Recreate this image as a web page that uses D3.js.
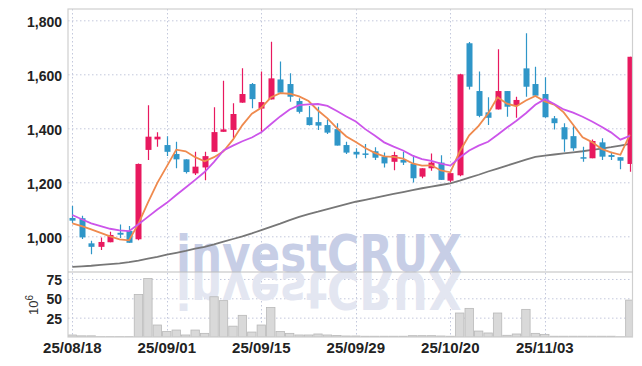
<!DOCTYPE html>
<html><head><meta charset="utf-8">
<script src="https://cdn.jsdelivr.net/npm/d3@7"></script>
<style>body{margin:0;background:#fff;} svg{display:block}</style>
</head><body><svg id="c" width="642" height="366"></svg>
<script>
const dates = ["2025-08-18","2025-08-19","2025-08-20","2025-08-21","2025-08-22","2025-08-25","2025-08-26","2025-08-27","2025-08-28","2025-08-29",
"2025-09-01","2025-09-02","2025-09-03","2025-09-04","2025-09-05","2025-09-08","2025-09-09","2025-09-10","2025-09-11","2025-09-12",
"2025-09-15","2025-09-16","2025-09-17","2025-09-18","2025-09-19","2025-09-22","2025-09-23","2025-09-24","2025-09-25","2025-09-26",
"2025-09-29","2025-09-30","2025-10-01","2025-10-02","2025-10-10","2025-10-13","2025-10-14","2025-10-15","2025-10-16","2025-10-17",
"2025-10-20","2025-10-21","2025-10-22","2025-10-23","2025-10-24","2025-10-27","2025-10-28","2025-10-29","2025-10-30","2025-10-31",
"2025-11-03","2025-11-04","2025-11-05","2025-11-06","2025-11-07","2025-11-10","2025-11-11","2025-11-12","2025-11-13","2025-11-14"];
const open  = [1068,1067,974,961,978,1013,1020,989,1320,1359, 1338,1305,1285,1233,1255,1313,1387,1394,1495,1564, 1473,1507,1581,1564,1501,1441,1423,1412,1397,1338, 1313,1307,1315,1295,1276,1283,1268,1221,1252,1273, 1206,1226,1715,1538,1459,1470,1538,1486,1622,1564, 1527,1437,1404,1371,1293,1289,1348,1301,1293,1268];
const high  = [1112,1076,984,996,1017,1044,1038,1270,1485,1385, 1371,1350,1285,1313,1313,1478,1576,1493,1622,1568, 1610,1721,1647,1604,1511,1483,1480,1433,1419,1350, 1326,1342,1330,1310,1313,1313,1301,1252,1307,1300, 1236,1602,1720,1610,1515,1693,1538,1517,1752,1628, 1589,1446,1419,1408,1332,1359,1363,1313,1293,1665];
const low   = [1049,990,934,949,978,994,976,985,1283,1332, 1297,1252,1233,1227,1208,1313,1387,1363,1495,1474, 1387,1507,1530,1498,1455,1410,1394,1379,1336,1305, 1289,1289,1283,1255,1245,1264,1199,1215,1243,1209, 1200,1222,1544,1441,1412,1470,1443,1439,1517,1518, 1439,1396,1313,1317,1276,1289,1283,1283,1248,1239];
const close = [1058,996,961,979,1005,1006,976,1268,1369,1369, 1313,1285,1238,1258,1297,1386,1396,1453,1527,1508, 1497,1585,1532,1517,1461,1412,1410,1384,1336,1310, 1303,1304,1291,1270,1301,1273,1215,1252,1273,1209, 1234,1600,1554,1446,1439,1538,1480,1505,1554,1521, 1441,1419,1359,1326,1289,1353,1295,1294,1280,1665];
const volume = [2.6,1.5,1.5,0.4,0.4,0.4,0.4,55,75.6,15.5, 7,9,2.6,9,4.7,52,47,14,28,6.4, 15.5,38,7,4.7,2.6,2.6,3.9,2.6,2,1.3, 1.3,1,1,1,1,1,1.7,1.7,1.7,1.3, 1,31,37,7.7,5.2,31,2.2,3.9,35.7,4.7, 3.4,1,1,1,1,1,1,1,0.3,47.7];
const ma5  = [1048,1038,1026,1013,1000,989,985,1047,1125,1198, 1259,1321,1315,1293,1278,1293,1315,1358,1412,1454, 1476,1514,1530,1528,1518,1501,1466,1437,1401,1370, 1349,1327,1309,1296,1294,1288,1270,1262,1263,1244, 1237,1314,1374,1409,1455,1515,1491,1482,1503,1520, 1500,1488,1459,1413,1367,1349,1324,1311,1302,1377];
const ma10 = [1079,1063,1048,1038,1028,1022,1019,1045,1072,1099, 1124,1153,1181,1209,1238,1276,1318,1336,1352,1366, 1385,1415,1444,1470,1486,1489,1490,1483,1464,1444, 1425,1397,1373,1348,1332,1318,1299,1286,1279,1269, 1262,1292,1318,1336,1350,1376,1403,1428,1456,1487, 1508,1490,1470,1458,1443,1425,1406,1385,1358,1372];
const ma60 = [887,889,891,894,897,900,904,910,917,924, 932,939,946,954,961,970,980,990,1000,1011, 1023,1035,1047,1060,1072,1082,1091,1101,1110,1119, 1128,1135,1142,1150,1157,1164,1171,1178,1184,1190, 1196,1206,1217,1228,1240,1251,1262,1273,1284,1294, 1299,1303,1307,1311,1315,1320,1325,1330,1336,1342];
const priceTicks = [1000,1200,1400,1600,1800];
const volTicks = [25,50,75];
const dateTicks = ["2025-08-18","2025-09-01","2025-09-15","2025-09-29","2025-10-20","2025-11-03"];
const watermark = "investCRUX";

const L=68, R=632.5, PT=9, PB=272, VB=337;
const UP="#e8195f", DOWN="#2f96c8";
const svg = d3.select("#c");
const x = d3.scaleBand().domain(dates).range([67.575, 634.575]);
const cx = d => x(d) + x.bandwidth()/2;
const y = d3.scaleLinear().domain([867.8,1841.9]).range([PB,PT]);
const yv = d3.scaleLinear().domain([0,84]).range([VB,PB]);

svg.append("defs").append("clipPath").attr("id","clipP").append("rect")
  .attr("x",L).attr("y",PT).attr("width",R-L).attr("height",PB-PT);
svg.select("defs").append("clipPath").attr("id","clipV").append("rect")
  .attr("x",L).attr("y",PB).attr("width",R-L).attr("height",VB-PB);

const gridC = "#c3c8dc", dash="1.5,2.5";
svg.append("g").selectAll("line").data(priceTicks).join("line")
  .attr("x1",L).attr("x2",R).attr("y1",d=>y(d)+0.5).attr("y2",d=>y(d)+0.5)
  .attr("stroke",gridC).attr("stroke-dasharray",dash);
svg.append("g").selectAll("line").data(volTicks).join("line")
  .attr("x1",L).attr("x2",R).attr("y1",d=>yv(d)+0.5).attr("y2",d=>yv(d)+0.5)
  .attr("stroke",gridC).attr("stroke-dasharray",dash);
svg.append("g").selectAll("line").data(dateTicks).join("line")
  .attr("x1",d=>Math.round(cx(d))+0.5).attr("x2",d=>Math.round(cx(d))+0.5).attr("y1",PT).attr("y2",VB)
  .attr("stroke",gridC).attr("stroke-dasharray",dash);

// watermark with reflection
const wm = svg.append("g");
const wmFont = "'DejaVu Sans', 'Liberation Sans', sans-serif";
wm.append("text").attr("x",176).attr("y",272).text(watermark)
  .attr("font-family",wmFont).attr("font-weight","bold")
  .attr("font-size",52).attr("textLength",286).attr("lengthAdjust","spacingAndGlyphs")
  .attr("fill","#c7cee6");
wm.append("text").attr("x",176).attr("y",272).text(watermark)
  .attr("transform","translate(0,544) scale(1,-1)")
  .attr("font-family",wmFont).attr("font-weight","bold")
  .attr("font-size",52).attr("textLength",286).attr("lengthAdjust","spacingAndGlyphs")
  .attr("fill","#e3e6f1");

// volume
const idx = d3.range(dates.length);
svg.append("g").attr("clip-path","url(#clipV)").selectAll("rect").data(idx).join("rect")
  .attr("x",i=>cx(dates[i])-4.2).attr("width",8.4)
  .attr("y",i=>yv(volume[i])).attr("height",i=>VB-yv(volume[i]))
  .attr("fill","#d9d9d9").attr("stroke","#b8b8b8").attr("stroke-width",0.8);

const line = arr => d3.line().x((v,i)=>cx(dates[i])).y(v=>y(v))(arr);
const pg = svg.append("g").attr("clip-path","url(#clipP)");
pg.append("path").attr("d",line(ma60)).attr("fill","none").attr("stroke","#777").attr("stroke-width",1.8);

const cg = pg.append("g");
idx.forEach(i=>{
  const up = close[i] >= open[i];
  const col = up ? UP : DOWN;
  const xc = Math.round(cx(dates[i]));
  cg.append("line").attr("x1",xc+0.5).attr("x2",xc+0.5).attr("y1",y(high[i])).attr("y2",y(low[i]))
    .attr("stroke",col).attr("stroke-width",1.2);
  const top = y(Math.max(open[i],close[i])), bot = y(Math.min(open[i],close[i]));
  cg.append("rect").attr("x",xc-2.5).attr("width",6).attr("y",top).attr("height",Math.max(1.5,bot-top))
    .attr("fill",col);
});

pg.append("path").attr("d",line(ma5)).attr("fill","none").attr("stroke","#ef8a4e").attr("stroke-width",1.8);
pg.append("path").attr("d",line(ma10)).attr("fill","none").attr("stroke","#cc55ea").attr("stroke-width",1.8);

const fr = svg.append("g").attr("fill","none").attr("stroke","#cfcfcf").attr("stroke-width",1.2);
fr.append("rect").attr("x",L).attr("y",PT).attr("width",R-L).attr("height",VB-PT);
fr.append("line").attr("x1",L).attr("x2",R).attr("y1",PB).attr("y2",PB).attr("stroke","#bdbdbd");

const font = "'Liberation Sans Narrow', 'Arial Narrow', sans-serif";
function styleAxis(g){ g.select(".domain").remove(); g.selectAll(".tick line").remove();
  g.selectAll("text").attr("font-family",font).attr("font-weight","bold").attr("fill","#222"); }
svg.append("g").attr("transform",`translate(${L},2)`)
  .call(d3.axisLeft(y).tickValues(priceTicks).tickFormat(d3.format(",")).tickSize(0).tickPadding(6))
  .call(styleAxis).selectAll("text").attr("font-size",14);
svg.append("g").attr("transform",`translate(${L},1)`)
  .call(d3.axisLeft(yv).tickValues(volTicks).tickSize(0).tickPadding(6))
  .call(styleAxis).selectAll("text").attr("font-size",14);
svg.append("g").attr("transform",`translate(0,${VB})`)
  .call(d3.axisBottom(x).tickValues(dateTicks).tickFormat(d=>d.slice(2).replace(/-/g,"/")).tickSize(0).tickPadding(5))
  .call(styleAxis).selectAll("text").attr("font-size",15);

const ul = svg.append("text").attr("transform","translate(38,305) rotate(-90)").attr("text-anchor","middle")
  .attr("font-family","'Liberation Sans', Arial, sans-serif").attr("font-size",13).attr("fill","#333");
ul.append("tspan").text("10");
ul.append("tspan").text("6").attr("dy",-5).attr("font-size",10);
</script></body></html>
